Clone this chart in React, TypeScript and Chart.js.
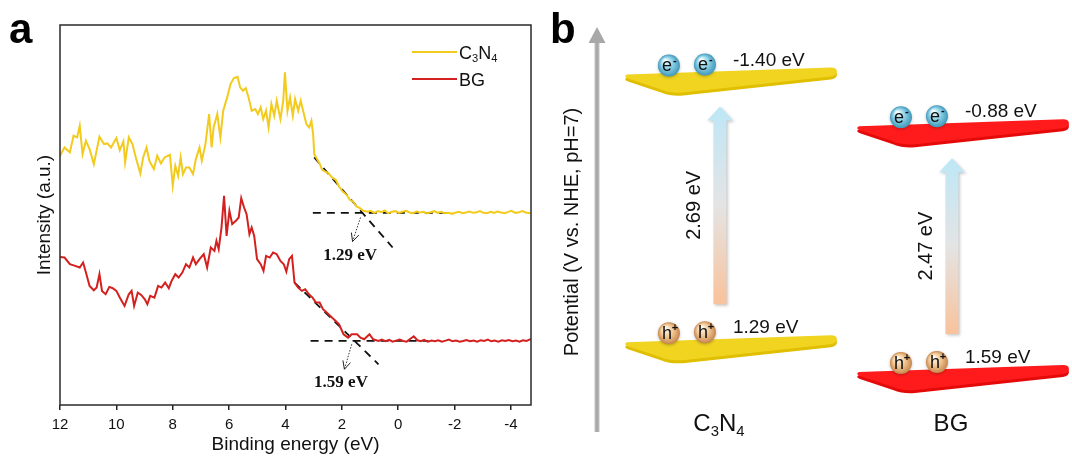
import React, { useEffect, useRef } from 'react';
import { Chart, registerables } from 'chart.js';
Chart.register(...registerables);

const FONT = '"Liberation Sans", Arial, Helvetica, sans-serif';
const SERIF = '"Liberation Serif", "Times New Roman", serif';

// ---------- Panel a data ----------
const xTicks = [12, 10, 8, 6, 4, 2, 0, -2, -4];
const seriesNames = ['C3N4', 'BG'];
const seriesColors = ['#F2CB1D', '#D3211F'];

const c3n4Energy = [
  12.0, 11.84, 11.65, 11.52, 11.39, 11.3, 11.2, 11.08, 10.95, 10.8, 10.6, 10.44, 10.32, 10.19, 10.0, 9.88,
  9.75, 9.69, 9.56, 9.43, 9.31, 9.15, 9.05, 8.93, 8.83, 8.67, 8.55, 8.42, 8.29, 8.1, 8.0, 7.91, 7.81, 7.72,
  7.64, 7.53, 7.41, 7.28, 7.18, 7.05, 6.97, 6.84, 6.71, 6.62, 6.55, 6.42, 6.31, 6.21, 6.07, 5.95, 5.83, 5.7,
  5.61, 5.51, 5.41, 5.31, 5.2, 5.07, 4.98, 4.88, 4.79, 4.69, 4.6, 4.5, 4.4, 4.31, 4.18, 4.08, 4.02, 3.93,
  3.84, 3.74, 3.66, 3.55, 3.46, 3.36, 3.26, 3.16, 3.08, 3.02, 2.98, 2.9, 2.78, 2.7, 2.6, 2.48, 2.35, 2.22,
  2.1, 1.97, 1.83, 1.72, 1.6, 1.48, 1.36, 1.24, 1.1, 0.98, 0.85, 0.72, 0.6, 0.48, 0.36, 0.22, 0.1, -0.02,
  -0.15, -0.28, -0.4, -0.52, -0.65, -0.78, -0.9, -1.02, -1.15, -1.28, -1.4, -1.52, -1.65, -1.78, -1.9, -2.02,
  -2.15, -2.28, -2.4, -2.52, -2.65, -2.78, -2.9, -3.02, -3.15, -3.28, -3.4, -3.52, -3.65, -3.78, -3.9, -4.02,
  -4.15, -4.28, -4.4, -4.52, -4.65, -4.71,
];
const c3n4Intensity = [
  74.7, 77.2, 75.7, 80.7, 80.2, 83.7, 75.2, 79.2, 76.7, 72.2, 80.4, 78.2, 78.4, 77.2, 80.0, 76.4,
  79.0, 72.7, 80.2, 78.2, 74.2, 69.4, 74.2, 77.2, 73.2, 70.7, 74.7, 72.4, 74.2, 75.0, 65.7, 71.7, 68.7, 74.2,
  69.2, 71.2, 71.2, 69.2, 73.7, 77.2, 73.2, 78.2, 87.2, 77.2, 83.2, 87.2, 80.2, 88.2, 92.2, 96.2, 98.0, 98.4,
  95.2, 94.2, 95.0, 92.2, 88.2, 88.7, 87.2, 89.2, 85.7, 88.2, 83.2, 90.2, 86.7, 91.2, 85.7, 91.2, 99.7, 88.2,
  92.2, 86.7, 91.7, 88.2, 91.2, 87.7, 84.2, 83.2, 85.2, 81.2, 75.2, 74.0, 72.2, 70.5, 70.0, 69.5, 68.2, 67.5,
  65.5, 64.0, 63.0, 61.5, 61.0, 59.5, 59.0, 58.2, 57.9, 58.2, 57.6, 58.1, 57.8, 58.3, 57.5, 57.9, 58.1, 57.6,
  57.9, 58.2, 57.7, 57.5, 58.0, 57.7, 57.9, 57.4, 57.8, 58.1, 57.6, 57.9, 57.5, 57.6, 57.3, 57.6,
  57.9, 57.5, 57.7, 58.0, 57.6, 57.8, 58.1, 57.6, 57.5, 57.9, 57.6, 58.0, 57.7, 57.5, 57.9, 58.2,
  57.6, 57.8, 58.1, 57.7, 57.5, 57.6,
];

const bgEnergy = [
  12.0, 11.84, 11.65, 11.46, 11.3, 11.18, 11.08, 10.95, 10.8, 10.7, 10.6, 10.51, 10.38, 10.25, 10.13, 10.0,
  9.88, 9.71, 9.56, 9.46, 9.37, 9.24, 9.12, 8.99, 8.9, 8.8, 8.65, 8.52, 8.4, 8.27, 8.14, 8.04, 7.91, 7.79,
  7.66, 7.53, 7.41, 7.28, 7.18, 7.05, 6.9, 6.78, 6.65, 6.52, 6.45, 6.37, 6.27, 6.18, 6.09, 5.99, 5.89, 5.76,
  5.66, 5.57, 5.47, 5.38, 5.28, 5.2, 5.11, 5.01, 4.88, 4.78, 4.69, 4.56, 4.44, 4.31, 4.18, 4.06, 3.97, 3.87,
  3.77, 3.68, 3.55, 3.42, 3.3, 3.17, 3.04, 2.92, 2.79, 2.67, 2.54, 2.41, 2.22, 2.1, 1.94, 1.78, 1.65, 1.46,
  1.34, 1.21, 1.02, 0.89, 0.7, 0.58, 0.45, 0.32, 0.2, 0.08, -0.05, -0.18, -0.3, -0.42, -0.55, -0.68, -0.8,
  -0.92, -1.05, -1.18, -1.3, -1.42, -1.55, -1.68, -1.8, -1.92, -2.05, -2.18, -2.3, -2.42, -2.55, -2.68, -2.8,
  -2.92, -3.05, -3.18, -3.3, -3.42, -3.55, -3.68, -3.8, -3.92, -4.05, -4.18, -4.3, -4.42, -4.55, -4.65, -4.71,
];
const bgIntensity = [
  44.4, 44.2, 42.2, 41.7, 41.2, 42.7, 39.7, 35.7, 34.4, 35.2, 39.2, 34.2, 33.2, 35.4, 35.0, 34.2,
  32.2, 29.7, 33.2, 34.2, 29.7, 33.7, 33.0, 31.7, 30.2, 32.7, 32.2, 35.7, 35.2, 36.7, 35.0, 37.2, 39.2, 38.2,
  39.7, 42.2, 41.2, 44.2, 42.2, 43.7, 45.2, 41.2, 47.2, 46.2, 49.2, 46.7, 53.2, 62.7, 50.7, 58.2, 54.2, 55.2,
  56.2, 62.0, 59.2, 57.2, 51.2, 53.2, 50.7, 43.7, 42.2, 40.2, 44.7, 44.2, 45.7, 45.2, 43.2, 42.2, 40.0, 43.7,
  44.7, 36.7, 35.2, 34.2, 34.7, 33.2, 32.2, 30.7, 30.7, 28.7, 27.7, 26.7, 25.2, 24.2, 21.2, 20.2, 21.2, 21.2,
  20.2, 19.7, 21.2, 19.7, 19.2, 19.6, 19.1, 19.5, 19.0, 19.3, 19.6, 19.2, 19.0, 19.8, 20.6, 19.4, 19.1,
  19.5, 19.0, 19.3, 19.1, 19.4, 19.0, 19.3, 19.6, 19.1, 19.3, 19.0, 19.2, 19.5, 19.1, 19.3, 19.0,
  19.4, 19.2, 19.6, 19.1, 19.3, 19.0, 19.4, 19.2, 19.5, 19.1, 19.3, 19.0, 19.4, 19.2, 19.6, 19.7,
];

// onset (tangent) construction lines
const c3n4BaseE = [3.03, -1.87];
const c3n4BaseI = [57.6, 57.6];
const c3n4SlopeE = [2.98, 0.2];
const c3n4SlopeI = [74.2, 47.2];
const bgBaseE = [3.11, -1.07];
const bgBaseI = [19.2, 19.2];
const bgSlopeE = [3.68, 0.7];
const bgSlopeI = [36.7, 12.2];
const c3n4ArrowE = [1.34, 1.62];
const c3n4ArrowI = [56.2, 49.0];
const bgArrowE = [1.65, 1.91];
const bgArrowI = [18.2, 10.7];
const onsetLabels = ['1.29 eV', '1.59 eV'];
const onsetLabelE = [1.71, 2.03];
const onsetLabelI = [44.7, 6.7];

// ---------- Panel b data ----------
const materials = ['C3N4', 'BG'];
const cbPotential = [-1.4, -0.88];
const vbPotential = [1.29, 1.59];
const bandGap = [2.69, 2.47];
const plateTop = ['#F0D420', '#FF1B1B'];
const plateSide = ['#E0BE00', '#E40A0A'];

const pts = (xs: number[], ys: number[]) => xs.map((x, i) => ({ x, y: ys[i] }));

function drawSubText(ctx: CanvasRenderingContext2D, text: string, x: number, y: number, size: number, align: 'left' | 'center') {
  const subSize = size * 0.62;
  const parts = text.split('').map((ch) => ({ ch, sub: /[0-9]/.test(ch) }));
  let w = 0;
  parts.forEach((p) => {
    ctx.font = `${p.sub ? subSize : size}px ${FONT}`;
    w += ctx.measureText(p.ch).width;
  });
  let cx = align === 'center' ? x - w / 2 : x;
  ctx.textAlign = 'left';
  ctx.textBaseline = 'alphabetic';
  parts.forEach((p) => {
    ctx.font = `${p.sub ? subSize : size}px ${FONT}`;
    ctx.fillText(p.ch, cx, p.sub ? y + size * 0.22 : y);
    cx += ctx.measureText(p.ch).width;
  });
}

function arrowHead(ctx: CanvasRenderingContext2D, x0: number, y0: number, x1: number, y1: number) {
  const a = Math.atan2(y1 - y0, x1 - x0);
  const L = 9;
  ctx.save();
  ctx.setLineDash([]);
  ctx.strokeStyle = '#222';
  ctx.lineWidth = 1;
  ctx.beginPath();
  ctx.moveTo(x1 - L * Math.cos(a - 0.45), y1 - L * Math.sin(a - 0.45));
  ctx.lineTo(x1, y1);
  ctx.lineTo(x1 - L * Math.cos(a + 0.45), y1 - L * Math.sin(a + 0.45));
  ctx.stroke();
  ctx.restore();
}

const panelAPlugin = {
  id: 'panelA',
  afterDraw(chart: any) {
    const { ctx, chartArea: ca, scales } = chart;
    const xs = scales.x;
    const ys = scales.y;
    ctx.save();
    ctx.strokeStyle = '#2a2a2a';
    ctx.lineWidth = 1.5;
    ctx.strokeRect(ca.left, ca.top, ca.right - ca.left, ca.bottom - ca.top);
    [[c3n4ArrowE, c3n4ArrowI], [bgArrowE, bgArrowI]].forEach(([e, I]) => {
      arrowHead(ctx, xs.getPixelForValue(e[0]), ys.getPixelForValue(I[0]), xs.getPixelForValue(e[1]), ys.getPixelForValue(I[1]));
    });
    ctx.fillStyle = '#111';
    ctx.font = `bold 17px ${SERIF}`;
    ctx.textAlign = 'center';
    ctx.textBaseline = 'middle';
    onsetLabels.forEach((t, i) => {
      ctx.fillText(t, xs.getPixelForValue(onsetLabelE[i]), ys.getPixelForValue(onsetLabelI[i]));
    });
    seriesNames.forEach((name, i) => {
      const y = 52 + i * 27;
      ctx.strokeStyle = seriesColors[i];
      ctx.lineWidth = 2;
      ctx.beginPath();
      ctx.moveTo(412, y);
      ctx.lineTo(457, y);
      ctx.stroke();
      ctx.fillStyle = '#111';
      drawSubText(ctx, name, 459, y + 6.5, 18, 'left');
    });
    ctx.fillStyle = '#000';
    ctx.font = `bold 42px ${FONT}`;
    ctx.textAlign = 'left';
    ctx.textBaseline = 'alphabetic';
    ctx.fillText('a', 9, 43);
    ctx.restore();
  },
};

function drawPlate(ctx: CanvasRenderingContext2D, tx: number, ty: number, top: string, side: string) {
  const path = (dy: number) => {
    ctx.beginPath();
    ctx.moveTo(tx + 2, ty - 2 + dy);
    ctx.lineTo(tx + 206, ty - 9 + dy);
    ctx.quadraticCurveTo(tx + 212, ty - 9 + dy, tx + 212, ty - 5 + dy);
    ctx.quadraticCurveTo(tx + 212, ty - 1 + dy, tx + 206, ty + dy);
    ctx.lineTo(tx + 58, ty + 16 + dy);
    ctx.quadraticCurveTo(tx + 46, ty + 17 + dy, tx + 36, ty + 13 + dy);
    ctx.lineTo(tx + 3, ty + 2 + dy);
    ctx.quadraticCurveTo(tx - 2, ty + dy, tx + 2, ty - 2 + dy);
    ctx.closePath();
  };
  path(3);
  ctx.fillStyle = side;
  ctx.fill();
  path(0);
  ctx.fillStyle = top;
  ctx.fill();
}

function drawSphere(ctx: CanvasRenderingContext2D, x: number, y: number, r: number, kind: 'e' | 'h') {
  const g = ctx.createRadialGradient(x - r * 0.35, y - r * 0.45, r * 0.1, x, y, r);
  if (kind === 'e') {
    g.addColorStop(0, '#F2FCFF');
    g.addColorStop(0.45, '#93D5EA');
    g.addColorStop(1, '#3F98BA');
  } else {
    g.addColorStop(0, '#FFF7EA');
    g.addColorStop(0.5, '#F3C894');
    g.addColorStop(1, '#C7864C');
  }
  ctx.save();
  ctx.shadowColor = 'rgba(0,0,0,0.25)';
  ctx.shadowBlur = 3;
  ctx.shadowOffsetY = 1;
  ctx.beginPath();
  ctx.arc(x, y, r, 0, Math.PI * 2);
  ctx.fillStyle = g;
  ctx.fill();
  ctx.restore();
  ctx.fillStyle = '#111';
  ctx.textAlign = 'center';
  ctx.textBaseline = 'middle';
  ctx.font = `18px ${FONT}`;
  ctx.fillText(kind === 'e' ? 'e' : 'h', x - 2, y + 1);
  ctx.font = `bold 11px ${FONT}`;
  ctx.fillText(kind === 'e' ? '-' : '+', x + 6, y - 5);
}

const panelBPlugin = {
  id: 'panelB',
  afterDraw(chart: any) {
    const { ctx, scales } = chart;
    const xs = scales.x;
    const ys = scales.y;
    ctx.save();
    ctx.fillStyle = '#000';
    ctx.font = `bold 42px ${FONT}`;
    ctx.textAlign = 'left';
    ctx.textBaseline = 'alphabetic';
    ctx.fillText('b', 10, 43);
    const ax = 57;
    const sg = ctx.createLinearGradient(ax - 3, 0, ax + 3, 0);
    sg.addColorStop(0, '#C9C9C9');
    sg.addColorStop(0.5, '#A3A3A3');
    sg.addColorStop(1, '#C9C9C9');
    ctx.fillStyle = sg;
    ctx.fillRect(ax - 2.5, 42, 5, 390);
    ctx.fillStyle = '#A8A8A8';
    ctx.beginPath();
    ctx.moveTo(ax, 27);
    ctx.lineTo(ax + 8.5, 43);
    ctx.lineTo(ax - 8.5, 43);
    ctx.closePath();
    ctx.fill();
    ctx.save();
    ctx.translate(32, 232);
    ctx.rotate(-Math.PI / 2);
    ctx.fillStyle = '#111';
    ctx.font = `20px ${FONT}`;
    ctx.textAlign = 'center';
    ctx.textBaseline = 'middle';
    ctx.fillText('Potential (V vs. NHE, pH=7)', 0, 0);
    ctx.restore();

    materials.forEach((m, i) => {
      const cx = xs.getPixelForValue(i);
      const cbY = ys.getPixelForValue(cbPotential[i]);
      const vbY = ys.getPixelForValue(vbPotential[i]);
      const tx = cx - 106;
      const axx = cx - 11;
      const top = cbY + 30;
      const bot = vbY - 40;
      const g = ctx.createLinearGradient(0, top, 0, bot);
      g.addColorStop(0, '#BDE7F7');
      g.addColorStop(0.5, '#E4E4E4');
      g.addColorStop(1, '#F9C29B');
      ctx.save();
      ctx.shadowColor = 'rgba(0,0,0,0.22)';
      ctx.shadowBlur = 3;
      ctx.shadowOffsetX = 1.5;
      ctx.shadowOffsetY = 1.5;
      ctx.fillStyle = g;
      ctx.beginPath();
      ctx.moveTo(axx, top);
      ctx.lineTo(axx + 13, top + 14);
      ctx.lineTo(axx + 6.5, top + 14);
      ctx.lineTo(axx + 6.5, bot);
      ctx.lineTo(axx - 6.5, bot);
      ctx.lineTo(axx - 6.5, top + 14);
      ctx.lineTo(axx - 13, top + 14);
      ctx.closePath();
      ctx.fill();
      ctx.restore();
      ctx.save();
      ctx.translate(axx - 25, (top + bot) / 2);
      ctx.rotate(-Math.PI / 2);
      ctx.fillStyle = '#111';
      ctx.font = `20px ${FONT}`;
      ctx.textAlign = 'center';
      ctx.textBaseline = 'middle';
      ctx.fillText(`${bandGap[i].toFixed(2)} eV`, 0, 0);
      ctx.restore();
      [cbY, vbY].forEach((py, k) => {
        drawPlate(ctx, tx, py, plateTop[i], plateSide[i]);
        drawSphere(ctx, tx + 44, py - 11, 11, k === 0 ? 'e' : 'h');
        drawSphere(ctx, tx + 80, py - 12, 11, k === 0 ? 'e' : 'h');
        const v = k === 0 ? cbPotential[i] : vbPotential[i];
        ctx.fillStyle = '#111';
        ctx.font = `19px ${FONT}`;
        ctx.textAlign = 'left';
        ctx.textBaseline = 'alphabetic';
        ctx.fillText(`${v.toFixed(2)} eV`, tx + 108, py - 11);
      });
      ctx.fillStyle = '#111';
      drawSubText(ctx, m, cx - 12, 431, 24, 'center');
    });
    ctx.restore();
  },
};

export default function App() {
  const refA = useRef<HTMLCanvasElement>(null);
  const refB = useRef<HTMLCanvasElement>(null);

  useEffect(() => {
    document.body.style.margin = '0';
    const dashed = (xs: number[], ys: number[]) => ({
      data: pts(xs, ys),
      borderColor: '#111',
      borderWidth: 1.8,
      borderDash: [8, 6],
      pointRadius: 0,
      fill: false,
    });
    const dotted = (xs: number[], ys: number[]) => ({
      data: pts(xs, ys),
      borderColor: '#333',
      borderWidth: 1,
      borderDash: [1.5, 1.5],
      pointRadius: 0,
      fill: false,
    });
    const chartA = new Chart(refA.current!, {
      type: 'line',
      data: {
        datasets: [
          { label: seriesNames[0], data: pts(c3n4Energy, c3n4Intensity), borderColor: seriesColors[0], borderWidth: 2, pointRadius: 0, tension: 0 },
          { label: seriesNames[1], data: pts(bgEnergy, bgIntensity), borderColor: seriesColors[1], borderWidth: 2, pointRadius: 0, tension: 0 },
          dashed(c3n4BaseE, c3n4BaseI),
          dashed(c3n4SlopeE, c3n4SlopeI),
          dashed(bgBaseE, bgBaseI),
          dashed(bgSlopeE, bgSlopeI),
          dotted(c3n4ArrowE, c3n4ArrowI),
          dotted(bgArrowE, bgArrowI),
        ] as any,
      },
      options: {
        animation: false,
        responsive: false,
        maintainAspectRatio: false,
        layout: { padding: { top: 25, right: 9, left: 0, bottom: 0 } },
        plugins: { legend: { display: false }, tooltip: { enabled: false } },
        scales: {
          x: {
            type: 'linear',
            reverse: true,
            min: -4.71,
            max: 12,
            afterBuildTicks: (s: any) => {
              s.ticks = xTicks.map((v) => ({ value: v }));
            },
            afterFit: (s: any) => {
              s.height = 52;
            },
            ticks: { color: '#111', font: { size: 15, family: FONT }, padding: 6, maxRotation: 0, autoSkip: false },
            grid: { display: true, drawOnChartArea: false, drawTicks: true, tickLength: 5, color: '#222', lineWidth: 1.5 },
            border: { display: false },
            title: { display: true, text: 'Binding energy (eV)', color: '#111', font: { size: 19, family: FONT }, padding: { top: 0, bottom: 1 } },
          },
          y: {
            type: 'linear',
            min: 0,
            max: 113.9,
            afterFit: (s: any) => {
              s.width = 60;
            },
            ticks: { display: false },
            grid: { display: false },
            border: { display: false },
            title: { display: true, text: 'Intensity (a.u.)', color: '#111', font: { size: 19, family: FONT }, padding: { top: 33, bottom: 0 } },
          },
        },
      } as any,
      plugins: [panelAPlugin],
    });

    const chartB = new Chart(refB.current!, {
      type: 'scatter',
      data: {
        datasets: [
          { label: 'CB', data: cbPotential.map((y, i) => ({ x: i, y })), pointRadius: 0 },
          { label: 'VB', data: vbPotential.map((y, i) => ({ x: i, y })), pointRadius: 0 },
        ],
      },
      options: {
        animation: false,
        responsive: false,
        maintainAspectRatio: false,
        layout: { padding: 0 },
        plugins: { legend: { display: false }, tooltip: { enabled: false } },
        scales: {
          x: { type: 'linear', min: -0.823, max: 1.47, display: false },
          y: { type: 'linear', min: -2.169, max: 2.424, reverse: true, display: false },
        },
      } as any,
      plugins: [panelBPlugin],
    });

    return () => {
      chartA.destroy();
      chartB.destroy();
    };
  }, []);

  return (
    <div style={{ position: 'relative', width: 1072, height: 457, background: '#fff', overflow: 'hidden' }}>
      <canvas ref={refA} width={540} height={457} style={{ position: 'absolute', left: 0, top: 0, width: 540, height: 457 }} />
      <canvas ref={refB} width={532} height={457} style={{ position: 'absolute', left: 540, top: 0, width: 532, height: 457 }} />
    </div>
  );
}
